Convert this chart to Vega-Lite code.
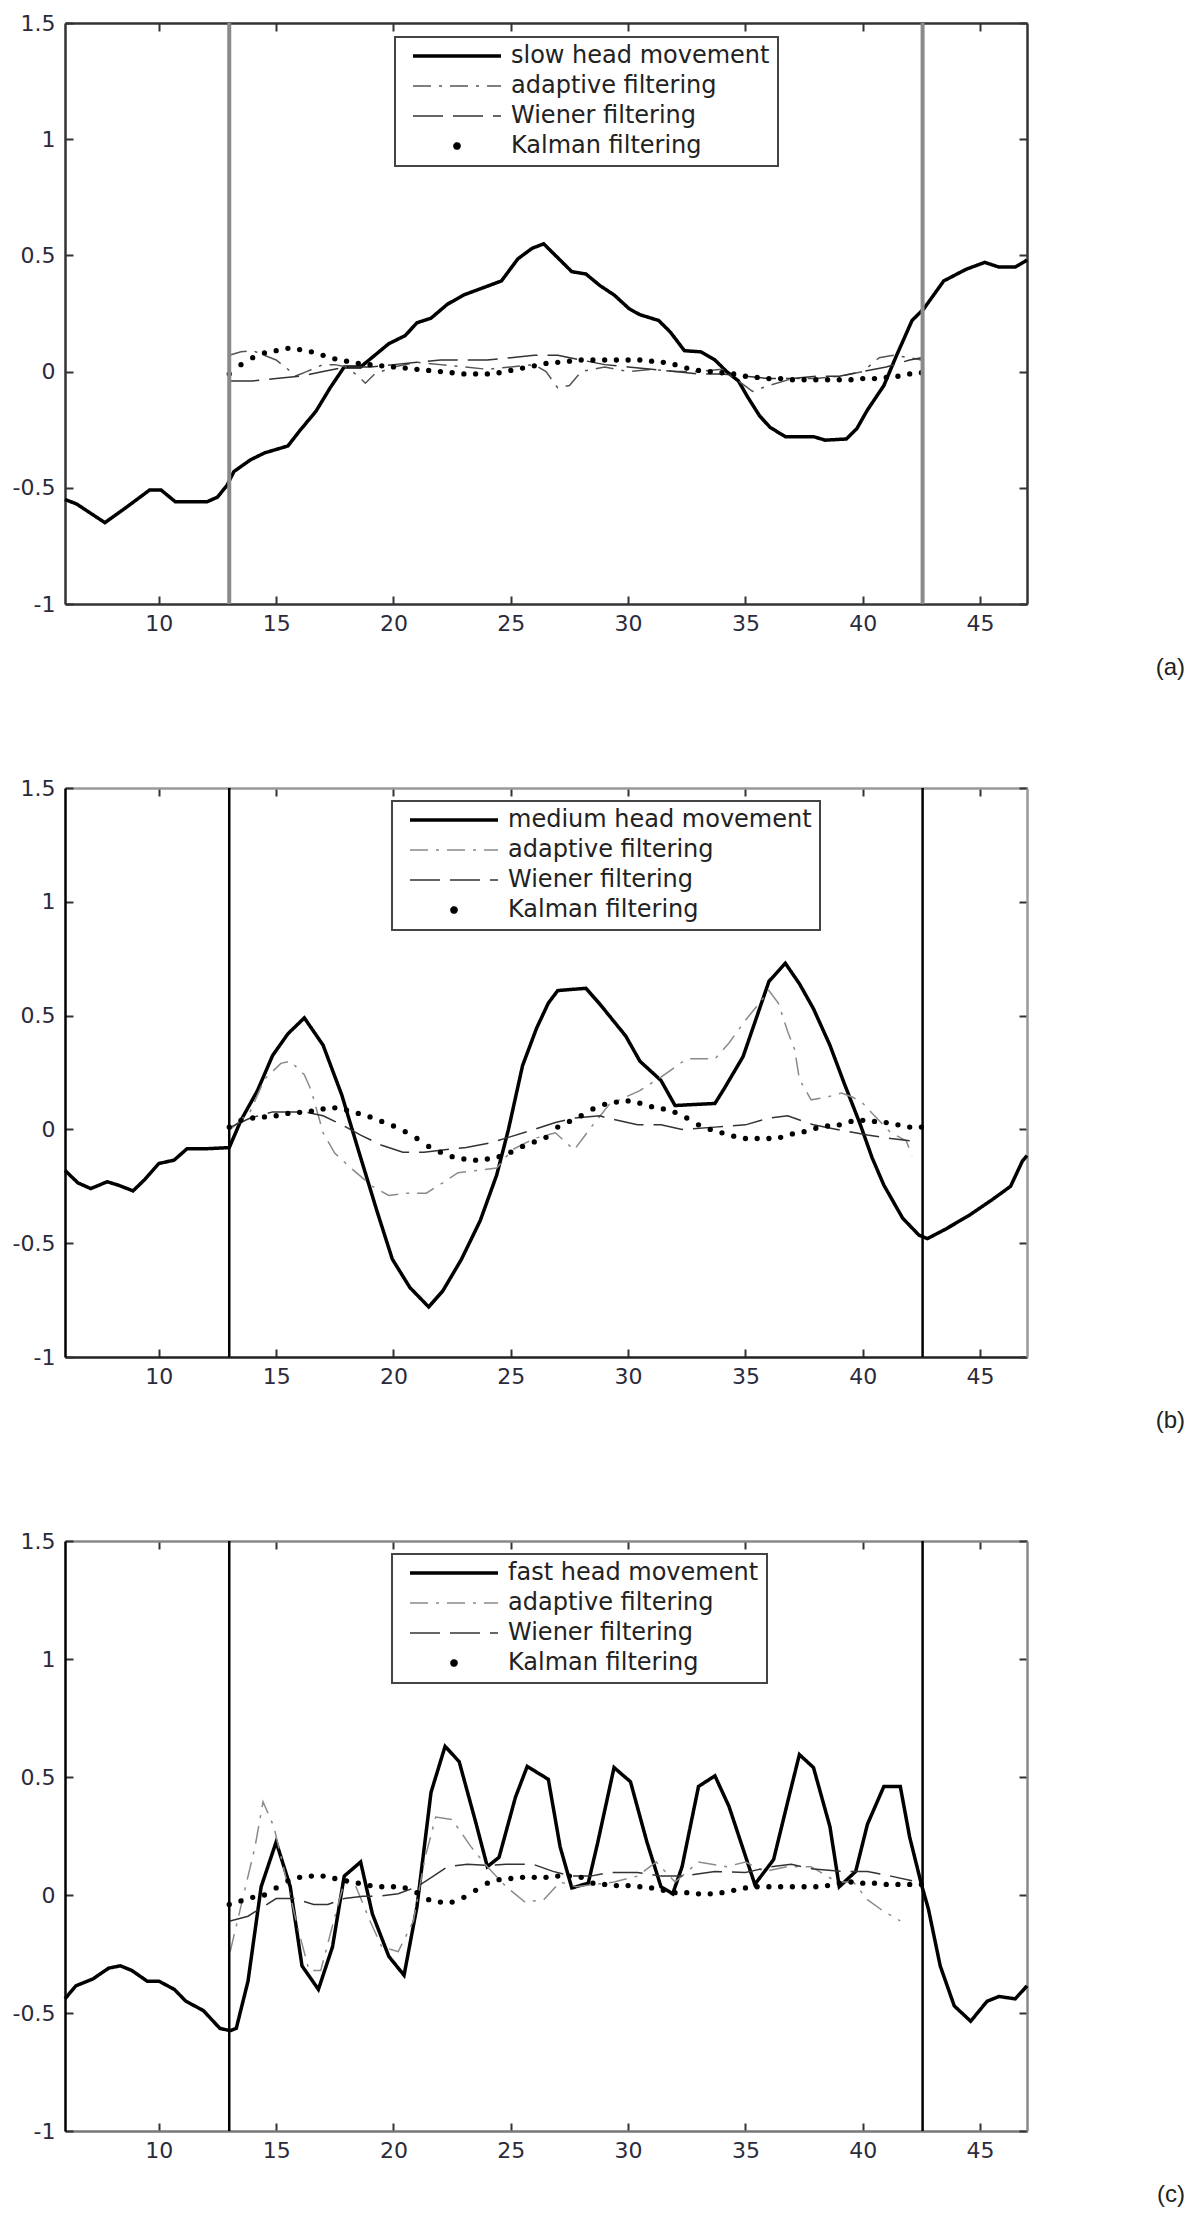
{
  "$schema": "https://vega.github.io/schema/vega-lite/v6.json",
  "padding": {"left": 12, "top": 12, "right": 5, "bottom": 5},
  "bounds": "flush",
  "spacing": 184,
  "config": {
    "view": {"stroke": null},
    "axis": {"grid": false, "title": null, "labelFont": "DejaVu Sans", "labelFontSize": 22, "labelColor": "#2b2b3b", "tickSize": -8, "tickWidth": 2, "tickColor": "#333", "domainColor": "#333", "domainWidth": 2.5, "labelOverlap": false, "labelFlush": false},
    "legend": {"orient": "none", "title": null, "symbolType": "stroke", "symbolSize": 7744, "symbolOffset": 42, "clipHeight": 22, "labelFont": "DejaVu Sans", "labelFontSize": 24, "labelColor": "#222", "labelOffset": 42, "rowPadding": 6, "padding": 8, "strokeColor": "#444", "fillColor": "#ffffff", "labelLimit": 0}
  },
  "resolve": {"scale": {"color": "independent", "strokeDash": "independent"}, "legend": {"color": "independent", "strokeDash": "independent"}},
  "datasets": {
    "a_lines": [
      {"x":6.0,"y":-0.55,"s":"slow head movement"},{"x":6.5,"y":-0.57,"s":"slow head movement"},{"x":7.7,"y":-0.65,"s":"slow head movement"},{"x":8.6,"y":-0.585,"s":"slow head movement"},{"x":9.6,"y":-0.51,"s":"slow head movement"},{"x":10.1,"y":-0.51,"s":"slow head movement"},{"x":10.7,"y":-0.56,"s":"slow head movement"},{"x":12.06,"y":-0.56,"s":"slow head movement"},{"x":12.5,"y":-0.54,"s":"slow head movement"},{"x":12.9,"y":-0.49,"s":"slow head movement"},{"x":13.2,"y":-0.43,"s":"slow head movement"},{"x":13.9,"y":-0.38,"s":"slow head movement"},{"x":14.5,"y":-0.35,"s":"slow head movement"},{"x":15.5,"y":-0.32,"s":"slow head movement"},{"x":16.0,"y":-0.255,"s":"slow head movement"},{"x":16.7,"y":-0.17,"s":"slow head movement"},{"x":17.3,"y":-0.07,"s":"slow head movement"},{"x":17.9,"y":0.02,"s":"slow head movement"},{"x":18.6,"y":0.02,"s":"slow head movement"},{"x":19.2,"y":0.07,"s":"slow head movement"},{"x":19.8,"y":0.12,"s":"slow head movement"},{"x":20.5,"y":0.155,"s":"slow head movement"},{"x":21.0,"y":0.21,"s":"slow head movement"},{"x":21.6,"y":0.23,"s":"slow head movement"},{"x":22.3,"y":0.29,"s":"slow head movement"},{"x":23.0,"y":0.33,"s":"slow head movement"},{"x":23.8,"y":0.36,"s":"slow head movement"},{"x":24.6,"y":0.39,"s":"slow head movement"},{"x":25.3,"y":0.485,"s":"slow head movement"},{"x":25.9,"y":0.53,"s":"slow head movement"},{"x":26.4,"y":0.55,"s":"slow head movement"},{"x":26.9,"y":0.5,"s":"slow head movement"},{"x":27.6,"y":0.43,"s":"slow head movement"},{"x":28.2,"y":0.42,"s":"slow head movement"},{"x":28.8,"y":0.37,"s":"slow head movement"},{"x":29.4,"y":0.33,"s":"slow head movement"},{"x":30.05,"y":0.27,"s":"slow head movement"},{"x":30.5,"y":0.245,"s":"slow head movement"},{"x":31.3,"y":0.22,"s":"slow head movement"},{"x":31.8,"y":0.17,"s":"slow head movement"},{"x":32.4,"y":0.09,"s":"slow head movement"},{"x":33.1,"y":0.085,"s":"slow head movement"},{"x":33.7,"y":0.05,"s":"slow head movement"},{"x":34.2,"y":0.0,"s":"slow head movement"},{"x":34.7,"y":-0.04,"s":"slow head movement"},{"x":35.1,"y":-0.11,"s":"slow head movement"},{"x":35.6,"y":-0.19,"s":"slow head movement"},{"x":36.05,"y":-0.24,"s":"slow head movement"},{"x":36.7,"y":-0.28,"s":"slow head movement"},{"x":37.9,"y":-0.28,"s":"slow head movement"},{"x":38.4,"y":-0.295,"s":"slow head movement"},{"x":39.3,"y":-0.29,"s":"slow head movement"},{"x":39.75,"y":-0.245,"s":"slow head movement"},{"x":40.2,"y":-0.165,"s":"slow head movement"},{"x":40.9,"y":-0.06,"s":"slow head movement"},{"x":41.4,"y":0.06,"s":"slow head movement"},{"x":42.1,"y":0.22,"s":"slow head movement"},{"x":42.6,"y":0.27,"s":"slow head movement"},{"x":43.45,"y":0.39,"s":"slow head movement"},{"x":44.4,"y":0.44,"s":"slow head movement"},{"x":45.2,"y":0.47,"s":"slow head movement"},{"x":45.8,"y":0.45,"s":"slow head movement"},{"x":46.5,"y":0.45,"s":"slow head movement"},{"x":47.0,"y":0.48,"s":"slow head movement"},
      {"x":13.0,"y":0.07,"s":"adaptive filtering"},{"x":13.5,"y":0.085,"s":"adaptive filtering"},{"x":14.0,"y":0.09,"s":"adaptive filtering"},{"x":14.5,"y":0.07,"s":"adaptive filtering"},{"x":15.0,"y":0.05,"s":"adaptive filtering"},{"x":15.5,"y":0.01,"s":"adaptive filtering"},{"x":15.8,"y":-0.02,"s":"adaptive filtering"},{"x":16.3,"y":0.0,"s":"adaptive filtering"},{"x":17.0,"y":0.03,"s":"adaptive filtering"},{"x":17.5,"y":0.03,"s":"adaptive filtering"},{"x":18.0,"y":0.02,"s":"adaptive filtering"},{"x":18.5,"y":-0.02,"s":"adaptive filtering"},{"x":18.8,"y":-0.05,"s":"adaptive filtering"},{"x":19.2,"y":-0.01,"s":"adaptive filtering"},{"x":20.0,"y":0.02,"s":"adaptive filtering"},{"x":21.0,"y":0.04,"s":"adaptive filtering"},{"x":22.0,"y":0.03,"s":"adaptive filtering"},{"x":23.0,"y":0.02,"s":"adaptive filtering"},{"x":24.0,"y":0.01,"s":"adaptive filtering"},{"x":25.0,"y":0.02,"s":"adaptive filtering"},{"x":26.0,"y":0.03,"s":"adaptive filtering"},{"x":26.5,"y":0.0,"s":"adaptive filtering"},{"x":27.0,"y":-0.07,"s":"adaptive filtering"},{"x":27.5,"y":-0.06,"s":"adaptive filtering"},{"x":28.0,"y":0.0,"s":"adaptive filtering"},{"x":29.0,"y":0.02,"s":"adaptive filtering"},{"x":30.0,"y":0.0,"s":"adaptive filtering"},{"x":31.0,"y":0.01,"s":"adaptive filtering"},{"x":32.0,"y":0.0,"s":"adaptive filtering"},{"x":33.0,"y":0.0,"s":"adaptive filtering"},{"x":34.0,"y":0.01,"s":"adaptive filtering"},{"x":34.7,"y":-0.04,"s":"adaptive filtering"},{"x":35.3,"y":-0.085,"s":"adaptive filtering"},{"x":36.0,"y":-0.06,"s":"adaptive filtering"},{"x":37.0,"y":-0.03,"s":"adaptive filtering"},{"x":38.0,"y":-0.03,"s":"adaptive filtering"},{"x":39.0,"y":-0.02,"s":"adaptive filtering"},{"x":40.0,"y":0.0,"s":"adaptive filtering"},{"x":40.7,"y":0.06,"s":"adaptive filtering"},{"x":41.3,"y":0.07,"s":"adaptive filtering"},{"x":42.0,"y":0.06,"s":"adaptive filtering"},{"x":42.5,"y":0.05,"s":"adaptive filtering"},
      {"x":13.0,"y":-0.04,"s":"Wiener filtering"},{"x":14.0,"y":-0.04,"s":"Wiener filtering"},{"x":15.0,"y":-0.03,"s":"Wiener filtering"},{"x":16.0,"y":-0.02,"s":"Wiener filtering"},{"x":17.0,"y":0.0,"s":"Wiener filtering"},{"x":18.0,"y":0.02,"s":"Wiener filtering"},{"x":19.0,"y":0.02,"s":"Wiener filtering"},{"x":20.0,"y":0.03,"s":"Wiener filtering"},{"x":21.0,"y":0.04,"s":"Wiener filtering"},{"x":22.0,"y":0.05,"s":"Wiener filtering"},{"x":23.0,"y":0.05,"s":"Wiener filtering"},{"x":24.0,"y":0.05,"s":"Wiener filtering"},{"x":25.0,"y":0.06,"s":"Wiener filtering"},{"x":26.0,"y":0.07,"s":"Wiener filtering"},{"x":27.0,"y":0.07,"s":"Wiener filtering"},{"x":28.0,"y":0.05,"s":"Wiener filtering"},{"x":29.0,"y":0.03,"s":"Wiener filtering"},{"x":30.0,"y":0.02,"s":"Wiener filtering"},{"x":31.0,"y":0.01,"s":"Wiener filtering"},{"x":32.0,"y":0.0,"s":"Wiener filtering"},{"x":33.0,"y":-0.01,"s":"Wiener filtering"},{"x":34.0,"y":-0.01,"s":"Wiener filtering"},{"x":35.0,"y":-0.02,"s":"Wiener filtering"},{"x":36.0,"y":-0.03,"s":"Wiener filtering"},{"x":37.0,"y":-0.03,"s":"Wiener filtering"},{"x":38.0,"y":-0.02,"s":"Wiener filtering"},{"x":39.0,"y":-0.02,"s":"Wiener filtering"},{"x":40.0,"y":0.0,"s":"Wiener filtering"},{"x":41.0,"y":0.02,"s":"Wiener filtering"},{"x":42.0,"y":0.05,"s":"Wiener filtering"},{"x":42.5,"y":0.06,"s":"Wiener filtering"}
    ],
    "a_kalman": [
      {"x":13.0,"y":-0.01},{"x":13.5,"y":0.03},{"x":14.0,"y":0.06},{"x":14.5,"y":0.08},{"x":15.0,"y":0.09},{"x":15.5,"y":0.1},{"x":16.0,"y":0.095},{"x":16.5,"y":0.085},{"x":17.0,"y":0.07},{"x":17.5,"y":0.055},{"x":18.0,"y":0.045},{"x":18.5,"y":0.035},{"x":19.0,"y":0.03},{"x":19.5,"y":0.025},{"x":20.0,"y":0.02},{"x":20.5,"y":0.015},{"x":21.0,"y":0.01},{"x":21.5,"y":0.005},{"x":22.0,"y":0.0},{"x":22.5,"y":-0.005},{"x":23.0,"y":-0.01},{"x":23.5,"y":-0.01},{"x":24.0,"y":-0.01},{"x":24.5,"y":-0.005},{"x":25.0,"y":0.005},{"x":25.5,"y":0.015},{"x":26.0,"y":0.025},{"x":26.5,"y":0.035},{"x":27.0,"y":0.04},{"x":27.5,"y":0.045},{"x":28.0,"y":0.05},{"x":28.5,"y":0.05},{"x":29.0,"y":0.05},{"x":29.5,"y":0.05},{"x":30.0,"y":0.05},{"x":30.5,"y":0.05},{"x":31.0,"y":0.045},{"x":31.5,"y":0.04},{"x":32.0,"y":0.03},{"x":32.5,"y":0.015},{"x":33.0,"y":0.005},{"x":33.5,"y":0.0},{"x":34.0,"y":-0.005},{"x":34.5,"y":-0.01},{"x":35.0,"y":-0.02},{"x":35.5,"y":-0.025},{"x":36.0,"y":-0.03},{"x":36.5,"y":-0.03},{"x":37.0,"y":-0.035},{"x":37.5,"y":-0.035},{"x":38.0,"y":-0.035},{"x":38.5,"y":-0.035},{"x":39.0,"y":-0.035},{"x":39.5,"y":-0.035},{"x":40.0,"y":-0.03},{"x":40.5,"y":-0.03},{"x":41.0,"y":-0.025},{"x":41.5,"y":-0.02},{"x":42.0,"y":-0.01},{"x":42.5,"y":-0.005}
    ],
    "b_lines": [
      {"x":6.0,"y":-0.18,"s":"medium head movement"},{"x":6.55,"y":-0.235,"s":"medium head movement"},{"x":7.1,"y":-0.26,"s":"medium head movement"},{"x":7.8,"y":-0.23,"s":"medium head movement"},{"x":8.27,"y":-0.245,"s":"medium head movement"},{"x":8.9,"y":-0.27,"s":"medium head movement"},{"x":9.4,"y":-0.22,"s":"medium head movement"},{"x":10.0,"y":-0.15,"s":"medium head movement"},{"x":10.65,"y":-0.135,"s":"medium head movement"},{"x":11.2,"y":-0.085,"s":"medium head movement"},{"x":12.0,"y":-0.085,"s":"medium head movement"},{"x":13.0,"y":-0.08,"s":"medium head movement"},{"x":13.5,"y":0.04,"s":"medium head movement"},{"x":14.2,"y":0.17,"s":"medium head movement"},{"x":14.85,"y":0.325,"s":"medium head movement"},{"x":15.5,"y":0.42,"s":"medium head movement"},{"x":16.2,"y":0.49,"s":"medium head movement"},{"x":17.0,"y":0.37,"s":"medium head movement"},{"x":17.8,"y":0.15,"s":"medium head movement"},{"x":18.5,"y":-0.09,"s":"medium head movement"},{"x":19.3,"y":-0.36,"s":"medium head movement"},{"x":19.95,"y":-0.57,"s":"medium head movement"},{"x":20.7,"y":-0.695,"s":"medium head movement"},{"x":21.5,"y":-0.78,"s":"medium head movement"},{"x":22.1,"y":-0.71,"s":"medium head movement"},{"x":22.9,"y":-0.57,"s":"medium head movement"},{"x":23.7,"y":-0.4,"s":"medium head movement"},{"x":24.4,"y":-0.2,"s":"medium head movement"},{"x":24.9,"y":0.0,"s":"medium head movement"},{"x":25.5,"y":0.28,"s":"medium head movement"},{"x":26.1,"y":0.445,"s":"medium head movement"},{"x":26.6,"y":0.555,"s":"medium head movement"},{"x":27.0,"y":0.61,"s":"medium head movement"},{"x":28.2,"y":0.62,"s":"medium head movement"},{"x":28.8,"y":0.55,"s":"medium head movement"},{"x":29.9,"y":0.41,"s":"medium head movement"},{"x":30.5,"y":0.3,"s":"medium head movement"},{"x":31.4,"y":0.215,"s":"medium head movement"},{"x":32.0,"y":0.105,"s":"medium head movement"},{"x":33.7,"y":0.114,"s":"medium head movement"},{"x":34.1,"y":0.18,"s":"medium head movement"},{"x":34.9,"y":0.32,"s":"medium head movement"},{"x":35.5,"y":0.5,"s":"medium head movement"},{"x":36.0,"y":0.65,"s":"medium head movement"},{"x":36.7,"y":0.73,"s":"medium head movement"},{"x":37.3,"y":0.64,"s":"medium head movement"},{"x":37.9,"y":0.53,"s":"medium head movement"},{"x":38.6,"y":0.37,"s":"medium head movement"},{"x":39.2,"y":0.205,"s":"medium head movement"},{"x":39.9,"y":0.02,"s":"medium head movement"},{"x":40.4,"y":-0.125,"s":"medium head movement"},{"x":40.9,"y":-0.245,"s":"medium head movement"},{"x":41.7,"y":-0.39,"s":"medium head movement"},{"x":42.4,"y":-0.465,"s":"medium head movement"},{"x":42.75,"y":-0.48,"s":"medium head movement"},{"x":43.5,"y":-0.44,"s":"medium head movement"},{"x":44.5,"y":-0.38,"s":"medium head movement"},{"x":45.5,"y":-0.31,"s":"medium head movement"},{"x":46.3,"y":-0.25,"s":"medium head movement"},{"x":46.8,"y":-0.14,"s":"medium head movement"},{"x":47.0,"y":-0.115,"s":"medium head movement"},
      {"x":13.05,"y":0.0,"s":"adaptive filtering"},{"x":13.9,"y":0.08,"s":"adaptive filtering"},{"x":14.5,"y":0.22,"s":"adaptive filtering"},{"x":15.2,"y":0.29,"s":"adaptive filtering"},{"x":15.6,"y":0.3,"s":"adaptive filtering"},{"x":16.2,"y":0.24,"s":"adaptive filtering"},{"x":16.5,"y":0.17,"s":"adaptive filtering"},{"x":17.0,"y":-0.015,"s":"adaptive filtering"},{"x":17.5,"y":-0.105,"s":"adaptive filtering"},{"x":18.3,"y":-0.18,"s":"adaptive filtering"},{"x":19.1,"y":-0.25,"s":"adaptive filtering"},{"x":19.8,"y":-0.29,"s":"adaptive filtering"},{"x":20.6,"y":-0.28,"s":"adaptive filtering"},{"x":21.4,"y":-0.28,"s":"adaptive filtering"},{"x":22.1,"y":-0.235,"s":"adaptive filtering"},{"x":22.75,"y":-0.19,"s":"adaptive filtering"},{"x":23.6,"y":-0.18,"s":"adaptive filtering"},{"x":24.4,"y":-0.17,"s":"adaptive filtering"},{"x":25.05,"y":-0.09,"s":"adaptive filtering"},{"x":26.0,"y":-0.04,"s":"adaptive filtering"},{"x":26.9,"y":-0.015,"s":"adaptive filtering"},{"x":27.7,"y":-0.09,"s":"adaptive filtering"},{"x":28.5,"y":0.02,"s":"adaptive filtering"},{"x":29.2,"y":0.11,"s":"adaptive filtering"},{"x":30.5,"y":0.17,"s":"adaptive filtering"},{"x":31.4,"y":0.23,"s":"adaptive filtering"},{"x":32.5,"y":0.31,"s":"adaptive filtering"},{"x":33.7,"y":0.31,"s":"adaptive filtering"},{"x":34.3,"y":0.38,"s":"adaptive filtering"},{"x":35.0,"y":0.48,"s":"adaptive filtering"},{"x":35.6,"y":0.555,"s":"adaptive filtering"},{"x":36.0,"y":0.61,"s":"adaptive filtering"},{"x":36.4,"y":0.555,"s":"adaptive filtering"},{"x":36.8,"y":0.43,"s":"adaptive filtering"},{"x":37.1,"y":0.35,"s":"adaptive filtering"},{"x":37.3,"y":0.22,"s":"adaptive filtering"},{"x":37.8,"y":0.13,"s":"adaptive filtering"},{"x":38.4,"y":0.14,"s":"adaptive filtering"},{"x":39.1,"y":0.16,"s":"adaptive filtering"},{"x":39.6,"y":0.14,"s":"adaptive filtering"},{"x":40.0,"y":0.115,"s":"adaptive filtering"},{"x":40.5,"y":0.06,"s":"adaptive filtering"},{"x":41.2,"y":-0.015,"s":"adaptive filtering"},{"x":41.85,"y":-0.05,"s":"adaptive filtering"},{"x":42.1,"y":-0.115,"s":"adaptive filtering"},
      {"x":13.05,"y":0.01,"s":"Wiener filtering"},{"x":13.9,"y":0.05,"s":"Wiener filtering"},{"x":14.85,"y":0.077,"s":"Wiener filtering"},{"x":16.2,"y":0.077,"s":"Wiener filtering"},{"x":17.0,"y":0.06,"s":"Wiener filtering"},{"x":17.8,"y":0.02,"s":"Wiener filtering"},{"x":18.6,"y":-0.025,"s":"Wiener filtering"},{"x":19.5,"y":-0.07,"s":"Wiener filtering"},{"x":20.4,"y":-0.1,"s":"Wiener filtering"},{"x":21.3,"y":-0.1,"s":"Wiener filtering"},{"x":22.1,"y":-0.09,"s":"Wiener filtering"},{"x":23.1,"y":-0.08,"s":"Wiener filtering"},{"x":24.1,"y":-0.06,"s":"Wiener filtering"},{"x":24.9,"y":-0.035,"s":"Wiener filtering"},{"x":26.0,"y":0.0,"s":"Wiener filtering"},{"x":26.9,"y":0.03,"s":"Wiener filtering"},{"x":27.7,"y":0.05,"s":"Wiener filtering"},{"x":28.8,"y":0.06,"s":"Wiener filtering"},{"x":29.1,"y":0.05,"s":"Wiener filtering"},{"x":30.4,"y":0.02,"s":"Wiener filtering"},{"x":31.4,"y":0.02,"s":"Wiener filtering"},{"x":32.3,"y":0.0,"s":"Wiener filtering"},{"x":33.7,"y":0.01,"s":"Wiener filtering"},{"x":35.0,"y":0.02,"s":"Wiener filtering"},{"x":36.0,"y":0.05,"s":"Wiener filtering"},{"x":36.8,"y":0.06,"s":"Wiener filtering"},{"x":37.9,"y":0.02,"s":"Wiener filtering"},{"x":38.9,"y":0.0,"s":"Wiener filtering"},{"x":40.2,"y":-0.025,"s":"Wiener filtering"},{"x":41.2,"y":-0.04,"s":"Wiener filtering"},{"x":42.0,"y":-0.05,"s":"Wiener filtering"}
    ],
    "b_kalman": [
      {"x":13.0,"y":0.01},{"x":13.5,"y":0.04},{"x":14.0,"y":0.05},{"x":14.5,"y":0.055},{"x":15.0,"y":0.06},{"x":15.5,"y":0.07},{"x":16.0,"y":0.075},{"x":16.5,"y":0.08},{"x":17.0,"y":0.09},{"x":17.5,"y":0.095},{"x":18.0,"y":0.085},{"x":18.5,"y":0.07},{"x":19.0,"y":0.055},{"x":19.5,"y":0.035},{"x":20.0,"y":0.015},{"x":20.5,"y":-0.01},{"x":21.0,"y":-0.04},{"x":21.5,"y":-0.075},{"x":22.0,"y":-0.1},{"x":22.5,"y":-0.12},{"x":23.0,"y":-0.13},{"x":23.5,"y":-0.135},{"x":24.0,"y":-0.13},{"x":24.5,"y":-0.12},{"x":25.0,"y":-0.1},{"x":25.5,"y":-0.075},{"x":26.0,"y":-0.055},{"x":26.5,"y":-0.035},{"x":27.0,"y":0.01},{"x":27.5,"y":0.035},{"x":28.0,"y":0.06},{"x":28.5,"y":0.09},{"x":29.0,"y":0.11},{"x":29.5,"y":0.12},{"x":30.0,"y":0.125},{"x":30.5,"y":0.115},{"x":31.0,"y":0.1},{"x":31.5,"y":0.09},{"x":32.0,"y":0.075},{"x":32.5,"y":0.05},{"x":33.0,"y":0.02},{"x":33.5,"y":0.0},{"x":34.0,"y":-0.015},{"x":34.5,"y":-0.03},{"x":35.0,"y":-0.04},{"x":35.5,"y":-0.04},{"x":36.0,"y":-0.04},{"x":36.5,"y":-0.035},{"x":37.0,"y":-0.02},{"x":37.5,"y":-0.01},{"x":38.0,"y":0.005},{"x":38.5,"y":0.015},{"x":39.0,"y":0.02},{"x":39.5,"y":0.035},{"x":40.0,"y":0.04},{"x":40.5,"y":0.035},{"x":41.0,"y":0.03},{"x":41.5,"y":0.02},{"x":42.0,"y":0.01},{"x":42.5,"y":0.01}
    ],
    "c_lines": [
      {"x":6.0,"y":-0.44,"s":"fast head movement"},{"x":6.46,"y":-0.385,"s":"fast head movement"},{"x":7.2,"y":-0.355,"s":"fast head movement"},{"x":7.86,"y":-0.31,"s":"fast head movement"},{"x":8.36,"y":-0.3,"s":"fast head movement"},{"x":8.85,"y":-0.32,"s":"fast head movement"},{"x":9.5,"y":-0.365,"s":"fast head movement"},{"x":10.0,"y":-0.365,"s":"fast head movement"},{"x":10.66,"y":-0.4,"s":"fast head movement"},{"x":11.15,"y":-0.45,"s":"fast head movement"},{"x":11.9,"y":-0.49,"s":"fast head movement"},{"x":12.6,"y":-0.565,"s":"fast head movement"},{"x":13.04,"y":-0.575,"s":"fast head movement"},{"x":13.3,"y":-0.565,"s":"fast head movement"},{"x":13.8,"y":-0.365,"s":"fast head movement"},{"x":14.36,"y":0.035,"s":"fast head movement"},{"x":15.0,"y":0.225,"s":"fast head movement"},{"x":15.6,"y":0.035,"s":"fast head movement"},{"x":16.1,"y":-0.3,"s":"fast head movement"},{"x":16.8,"y":-0.4,"s":"fast head movement"},{"x":17.4,"y":-0.22,"s":"fast head movement"},{"x":17.9,"y":0.08,"s":"fast head movement"},{"x":18.6,"y":0.14,"s":"fast head movement"},{"x":19.1,"y":-0.08,"s":"fast head movement"},{"x":19.8,"y":-0.26,"s":"fast head movement"},{"x":20.45,"y":-0.34,"s":"fast head movement"},{"x":21.0,"y":-0.05,"s":"fast head movement"},{"x":21.6,"y":0.435,"s":"fast head movement"},{"x":22.2,"y":0.63,"s":"fast head movement"},{"x":22.8,"y":0.565,"s":"fast head movement"},{"x":23.5,"y":0.31,"s":"fast head movement"},{"x":24.0,"y":0.12,"s":"fast head movement"},{"x":24.5,"y":0.16,"s":"fast head movement"},{"x":25.2,"y":0.415,"s":"fast head movement"},{"x":25.7,"y":0.545,"s":"fast head movement"},{"x":26.6,"y":0.49,"s":"fast head movement"},{"x":27.1,"y":0.205,"s":"fast head movement"},{"x":27.6,"y":0.03,"s":"fast head movement"},{"x":28.3,"y":0.05,"s":"fast head movement"},{"x":28.7,"y":0.22,"s":"fast head movement"},{"x":29.4,"y":0.54,"s":"fast head movement"},{"x":30.1,"y":0.48,"s":"fast head movement"},{"x":30.8,"y":0.225,"s":"fast head movement"},{"x":31.4,"y":0.035,"s":"fast head movement"},{"x":31.9,"y":0.005,"s":"fast head movement"},{"x":32.3,"y":0.12,"s":"fast head movement"},{"x":33.0,"y":0.46,"s":"fast head movement"},{"x":33.7,"y":0.505,"s":"fast head movement"},{"x":34.3,"y":0.375,"s":"fast head movement"},{"x":35.4,"y":0.045,"s":"fast head movement"},{"x":36.2,"y":0.15,"s":"fast head movement"},{"x":36.9,"y":0.435,"s":"fast head movement"},{"x":37.3,"y":0.595,"s":"fast head movement"},{"x":37.9,"y":0.54,"s":"fast head movement"},{"x":38.6,"y":0.29,"s":"fast head movement"},{"x":39.0,"y":0.035,"s":"fast head movement"},{"x":39.7,"y":0.1,"s":"fast head movement"},{"x":40.2,"y":0.3,"s":"fast head movement"},{"x":40.9,"y":0.46,"s":"fast head movement"},{"x":41.6,"y":0.46,"s":"fast head movement"},{"x":42.0,"y":0.245,"s":"fast head movement"},{"x":42.5,"y":0.045,"s":"fast head movement"},{"x":42.8,"y":-0.06,"s":"fast head movement"},{"x":43.3,"y":-0.3,"s":"fast head movement"},{"x":43.9,"y":-0.47,"s":"fast head movement"},{"x":44.6,"y":-0.535,"s":"fast head movement"},{"x":45.3,"y":-0.45,"s":"fast head movement"},{"x":45.8,"y":-0.43,"s":"fast head movement"},{"x":46.5,"y":-0.44,"s":"fast head movement"},{"x":47.0,"y":-0.385,"s":"fast head movement"},
      {"x":13.04,"y":-0.24,"s":"adaptive filtering"},{"x":13.6,"y":-0.005,"s":"adaptive filtering"},{"x":14.1,"y":0.205,"s":"adaptive filtering"},{"x":14.44,"y":0.395,"s":"adaptive filtering"},{"x":14.9,"y":0.29,"s":"adaptive filtering"},{"x":15.4,"y":0.08,"s":"adaptive filtering"},{"x":15.9,"y":-0.13,"s":"adaptive filtering"},{"x":16.4,"y":-0.32,"s":"adaptive filtering"},{"x":16.9,"y":-0.32,"s":"adaptive filtering"},{"x":17.4,"y":-0.13,"s":"adaptive filtering"},{"x":17.9,"y":0.055,"s":"adaptive filtering"},{"x":18.4,"y":0.035,"s":"adaptive filtering"},{"x":19.0,"y":-0.11,"s":"adaptive filtering"},{"x":19.5,"y":-0.22,"s":"adaptive filtering"},{"x":20.2,"y":-0.24,"s":"adaptive filtering"},{"x":20.85,"y":-0.11,"s":"adaptive filtering"},{"x":21.35,"y":0.16,"s":"adaptive filtering"},{"x":21.8,"y":0.33,"s":"adaptive filtering"},{"x":22.5,"y":0.32,"s":"adaptive filtering"},{"x":23.3,"y":0.205,"s":"adaptive filtering"},{"x":24.0,"y":0.12,"s":"adaptive filtering"},{"x":24.8,"y":0.035,"s":"adaptive filtering"},{"x":25.6,"y":-0.03,"s":"adaptive filtering"},{"x":26.4,"y":-0.02,"s":"adaptive filtering"},{"x":27.1,"y":0.055,"s":"adaptive filtering"},{"x":27.8,"y":0.035,"s":"adaptive filtering"},{"x":29.4,"y":0.055,"s":"adaptive filtering"},{"x":30.4,"y":0.08,"s":"adaptive filtering"},{"x":31.2,"y":0.14,"s":"adaptive filtering"},{"x":32.0,"y":0.055,"s":"adaptive filtering"},{"x":33.0,"y":0.14,"s":"adaptive filtering"},{"x":34.2,"y":0.12,"s":"adaptive filtering"},{"x":35.0,"y":0.14,"s":"adaptive filtering"},{"x":35.8,"y":0.1,"s":"adaptive filtering"},{"x":36.8,"y":0.12,"s":"adaptive filtering"},{"x":37.8,"y":0.12,"s":"adaptive filtering"},{"x":38.9,"y":0.055,"s":"adaptive filtering"},{"x":39.6,"y":0.055,"s":"adaptive filtering"},{"x":40.2,"y":-0.02,"s":"adaptive filtering"},{"x":40.9,"y":-0.07,"s":"adaptive filtering"},{"x":41.6,"y":-0.11,"s":"adaptive filtering"},
      {"x":13.04,"y":-0.11,"s":"Wiener filtering"},{"x":13.8,"y":-0.09,"s":"Wiener filtering"},{"x":14.44,"y":-0.05,"s":"Wiener filtering"},{"x":15.0,"y":-0.015,"s":"Wiener filtering"},{"x":15.75,"y":-0.015,"s":"Wiener filtering"},{"x":16.6,"y":-0.04,"s":"Wiener filtering"},{"x":17.2,"y":-0.04,"s":"Wiener filtering"},{"x":17.9,"y":-0.015,"s":"Wiener filtering"},{"x":18.7,"y":-0.005,"s":"Wiener filtering"},{"x":19.4,"y":-0.005,"s":"Wiener filtering"},{"x":20.2,"y":0.005,"s":"Wiener filtering"},{"x":21.0,"y":0.035,"s":"Wiener filtering"},{"x":21.7,"y":0.08,"s":"Wiener filtering"},{"x":22.3,"y":0.12,"s":"Wiener filtering"},{"x":23.15,"y":0.13,"s":"Wiener filtering"},{"x":24.0,"y":0.125,"s":"Wiener filtering"},{"x":24.8,"y":0.13,"s":"Wiener filtering"},{"x":25.95,"y":0.13,"s":"Wiener filtering"},{"x":26.8,"y":0.1,"s":"Wiener filtering"},{"x":27.6,"y":0.08,"s":"Wiener filtering"},{"x":28.4,"y":0.08,"s":"Wiener filtering"},{"x":29.2,"y":0.095,"s":"Wiener filtering"},{"x":30.4,"y":0.095,"s":"Wiener filtering"},{"x":31.4,"y":0.08,"s":"Wiener filtering"},{"x":32.35,"y":0.08,"s":"Wiener filtering"},{"x":33.7,"y":0.1,"s":"Wiener filtering"},{"x":35.0,"y":0.095,"s":"Wiener filtering"},{"x":36.1,"y":0.12,"s":"Wiener filtering"},{"x":36.95,"y":0.13,"s":"Wiener filtering"},{"x":37.9,"y":0.11,"s":"Wiener filtering"},{"x":39.1,"y":0.1,"s":"Wiener filtering"},{"x":40.2,"y":0.1,"s":"Wiener filtering"},{"x":41.2,"y":0.08,"s":"Wiener filtering"},{"x":42.1,"y":0.06,"s":"Wiener filtering"}
    ],
    "c_kalman": [
      {"x":13.0,"y":-0.04},{"x":13.5,"y":-0.025},{"x":14.0,"y":-0.01},{"x":14.5,"y":0.0},{"x":15.0,"y":0.03},{"x":15.5,"y":0.06},{"x":16.0,"y":0.075},{"x":16.5,"y":0.08},{"x":17.0,"y":0.08},{"x":17.5,"y":0.07},{"x":18.0,"y":0.06},{"x":18.5,"y":0.05},{"x":19.0,"y":0.04},{"x":19.5,"y":0.035},{"x":20.0,"y":0.035},{"x":20.5,"y":0.03},{"x":21.0,"y":0.01},{"x":21.5,"y":-0.02},{"x":22.0,"y":-0.03},{"x":22.5,"y":-0.03},{"x":23.0,"y":-0.01},{"x":23.5,"y":0.02},{"x":24.0,"y":0.05},{"x":24.5,"y":0.065},{"x":25.0,"y":0.07},{"x":25.5,"y":0.075},{"x":26.0,"y":0.075},{"x":26.5,"y":0.075},{"x":27.0,"y":0.08},{"x":27.5,"y":0.08},{"x":28.0,"y":0.075},{"x":28.5,"y":0.05},{"x":29.0,"y":0.045},{"x":29.5,"y":0.04},{"x":30.0,"y":0.04},{"x":30.5,"y":0.035},{"x":31.0,"y":0.03},{"x":31.5,"y":0.02},{"x":32.0,"y":0.01},{"x":32.5,"y":0.01},{"x":33.0,"y":0.005},{"x":33.5,"y":0.005},{"x":34.0,"y":0.01},{"x":34.5,"y":0.02},{"x":35.0,"y":0.03},{"x":35.5,"y":0.035},{"x":36.0,"y":0.035},{"x":36.5,"y":0.035},{"x":37.0,"y":0.035},{"x":37.5,"y":0.035},{"x":38.0,"y":0.035},{"x":38.5,"y":0.04},{"x":39.0,"y":0.05},{"x":39.5,"y":0.055},{"x":40.0,"y":0.05},{"x":40.5,"y":0.05},{"x":41.0,"y":0.045},{"x":41.5,"y":0.045},{"x":42.0,"y":0.045},{"x":42.5,"y":0.045}
    ],
    "marks": [{"x": 13}, {"x": 42.55}]
  },
  "vconcat": [
    {
      "width": 962, "height": 581,
      "title": {"text": "(a)", "orient": "bottom", "anchor": "end", "frame": "group", "dx": 158, "offset": 22, "fontSize": 24, "font": "Liberation Sans", "fontWeight": "normal", "color": "#222"},
      "resolve": {"axis": {"x": "independent", "y": "independent"}},
      "layer": [
        {
          "data": {"name": "a_lines"},
          "mark": {"type": "line"},
          "encoding": {
            "x": {"field": "x", "type": "quantitative", "scale": {"domain": [6, 47], "nice": false, "zero": false}, "axis": {"orient": "bottom", "values": [10,15,20,25,30,35,40,45], "labelPadding": 17}},
            "y": {"field": "y", "type": "quantitative", "scale": {"domain": [-1, 1.5], "nice": false, "zero": false}, "axis": {"orient": "left", "values": [-1,-0.5,0,0.5,1,1.5], "labelExpr": "'' + datum.value", "labelPadding": 18}},
            "color": {"field": "s", "type": "nominal", "scale": {"domain": ["slow head movement","adaptive filtering","Wiener filtering","Kalman filtering"], "range": ["#000000","#555555","#333333","#000000"]},
              "legend": {"legendX": 330, "legendY": 14,
                "encode": {"legend": {"update": {"strokeWidth": {"value": 2}}}, "symbols": {"update": {"strokeWidth": {"signal": "datum.value === 'slow head movement' ? 3.5 : 1.5"}, "shape": {"signal": "datum.value === 'Kalman filtering' ? 'M-0.07,0A0.07,0.07,0,1,0,0.07,0A0.07,0.07,0,1,0,-0.07,0Z' : 'stroke'"}, "fill": {"signal": "datum.value === 'Kalman filtering' ? '#000' : 'transparent'"}}}}}},
            "strokeDash": {"field": "s", "type": "nominal", "scale": {"domain": ["slow head movement","adaptive filtering","Wiener filtering","Kalman filtering"], "range": [[1,0],[18,8,3,8],[30,10],[1,0]]},
              "legend": {"legendX": 330, "legendY": 14}},
            "strokeWidth": {"condition": {"test": "datum.s === 'slow head movement'", "value": 3.5}, "value": 1.5}
          }
        },
        {
          "data": {"name": "a_kalman"},
          "mark": {"type": "point", "filled": true, "shape": "circle", "size": 28, "color": "#000", "opacity": 1},
          "encoding": {
            "x": {"field": "x", "type": "quantitative", "axis": {"orient": "top", "values": [10,15,20,25,30,35,40,45], "labels": false}},
            "y": {"field": "y", "type": "quantitative", "axis": {"orient": "right", "values": [-1,-0.5,0,0.5,1,1.5], "labels": false}}
          }
        },
        {
          "data": {"name": "marks"},
          "mark": {"type": "rule", "color": "#8a8a8a", "strokeWidth": 4},
          "encoding": {"x": {"field": "x", "type": "quantitative", "axis": null}}
        }
      ]
    },
    {
      "width": 962, "height": 569,
      "title": {"text": "(b)", "orient": "bottom", "anchor": "end", "frame": "group", "dx": 158, "offset": 22, "fontSize": 24, "font": "Liberation Sans", "fontWeight": "normal", "color": "#222"},
      "resolve": {"axis": {"x": "independent", "y": "independent"}},
      "layer": [
        {
          "data": {"name": "b_lines"},
          "mark": {"type": "line"},
          "encoding": {
            "x": {"field": "x", "type": "quantitative", "scale": {"domain": [6, 47], "nice": false, "zero": false}, "axis": {"orient": "bottom", "values": [10,15,20,25,30,35,40,45], "labelPadding": 17, "domainColor": "#222"}},
            "y": {"field": "y", "type": "quantitative", "scale": {"domain": [-1, 1.5], "nice": false, "zero": false}, "axis": {"orient": "left", "values": [-1,-0.5,0,0.5,1,1.5], "labelExpr": "'' + datum.value", "labelPadding": 18, "domainColor": "#000"}},
            "color": {"field": "s", "type": "nominal", "scale": {"domain": ["medium head movement","adaptive filtering","Wiener filtering","Kalman filtering"], "range": ["#000000","#8a8a8a","#333333","#000000"]},
              "legend": {"legendX": 327, "legendY": 13,
                "encode": {"legend": {"update": {"strokeWidth": {"value": 2}}}, "symbols": {"update": {"strokeWidth": {"signal": "datum.value === 'medium head movement' ? 3.5 : 1.5"}, "shape": {"signal": "datum.value === 'Kalman filtering' ? 'M-0.07,0A0.07,0.07,0,1,0,0.07,0A0.07,0.07,0,1,0,-0.07,0Z' : 'stroke'"}, "fill": {"signal": "datum.value === 'Kalman filtering' ? '#000' : 'transparent'"}}}}}},
            "strokeDash": {"field": "s", "type": "nominal", "scale": {"domain": ["medium head movement","adaptive filtering","Wiener filtering","Kalman filtering"], "range": [[1,0],[18,8,3,8],[30,10],[1,0]]},
              "legend": {"legendX": 327, "legendY": 13}},
            "strokeWidth": {"condition": {"test": "datum.s === 'medium head movement'", "value": 3.5}, "value": 1.5}
          }
        },
        {
          "data": {"name": "b_kalman"},
          "mark": {"type": "point", "filled": true, "shape": "circle", "size": 28, "color": "#000", "opacity": 1},
          "encoding": {
            "x": {"field": "x", "type": "quantitative", "axis": {"orient": "top", "values": [10,15,20,25,30,35,40,45], "labels": false, "domainColor": "#999"}},
            "y": {"field": "y", "type": "quantitative", "axis": {"orient": "right", "values": [-1,-0.5,0,0.5,1,1.5], "labels": false, "domainColor": "#999"}}
          }
        },
        {
          "data": {"name": "marks"},
          "mark": {"type": "rule", "color": "#000", "strokeWidth": 2.5},
          "encoding": {"x": {"field": "x", "type": "quantitative", "axis": null}}
        }
      ]
    },
    {
      "width": 962, "height": 590,
      "title": {"text": "(c)", "orient": "bottom", "anchor": "end", "frame": "group", "dx": 158, "offset": 22, "fontSize": 24, "font": "Liberation Sans", "fontWeight": "normal", "color": "#222"},
      "resolve": {"axis": {"x": "independent", "y": "independent"}},
      "layer": [
        {
          "data": {"name": "c_lines"},
          "mark": {"type": "line"},
          "encoding": {
            "x": {"field": "x", "type": "quantitative", "scale": {"domain": [6, 47], "nice": false, "zero": false}, "axis": {"orient": "bottom", "values": [10,15,20,25,30,35,40,45], "labelPadding": 17, "domainColor": "#777"}},
            "y": {"field": "y", "type": "quantitative", "scale": {"domain": [-1, 1.5], "nice": false, "zero": false}, "axis": {"orient": "left", "values": [-1,-0.5,0,0.5,1,1.5], "labelExpr": "'' + datum.value", "labelPadding": 18, "domainColor": "#000"}},
            "color": {"field": "s", "type": "nominal", "scale": {"domain": ["fast head movement","adaptive filtering","Wiener filtering","Kalman filtering"], "range": ["#000000","#8a8a8a","#333333","#000000"]},
              "legend": {"legendX": 327, "legendY": 13,
                "encode": {"legend": {"update": {"strokeWidth": {"value": 2}}}, "symbols": {"update": {"strokeWidth": {"signal": "datum.value === 'fast head movement' ? 3.5 : 1.5"}, "shape": {"signal": "datum.value === 'Kalman filtering' ? 'M-0.07,0A0.07,0.07,0,1,0,0.07,0A0.07,0.07,0,1,0,-0.07,0Z' : 'stroke'"}, "fill": {"signal": "datum.value === 'Kalman filtering' ? '#000' : 'transparent'"}}}}}},
            "strokeDash": {"field": "s", "type": "nominal", "scale": {"domain": ["fast head movement","adaptive filtering","Wiener filtering","Kalman filtering"], "range": [[1,0],[18,8,3,8],[30,10],[1,0]]},
              "legend": {"legendX": 327, "legendY": 13}},
            "strokeWidth": {"condition": {"test": "datum.s === 'fast head movement'", "value": 3.5}, "value": 1.5}
          }
        },
        {
          "data": {"name": "c_kalman"},
          "mark": {"type": "point", "filled": true, "shape": "circle", "size": 28, "color": "#000", "opacity": 1},
          "encoding": {
            "x": {"field": "x", "type": "quantitative", "axis": {"orient": "top", "values": [10,15,20,25,30,35,40,45], "labels": false, "domainColor": "#888"}},
            "y": {"field": "y", "type": "quantitative", "axis": {"orient": "right", "values": [-1,-0.5,0,0.5,1,1.5], "labels": false, "domainColor": "#888"}}
          }
        },
        {
          "data": {"name": "marks"},
          "mark": {"type": "rule", "color": "#000", "strokeWidth": 2.5},
          "encoding": {"x": {"field": "x", "type": "quantitative", "axis": null}}
        }
      ]
    }
  ]
}
